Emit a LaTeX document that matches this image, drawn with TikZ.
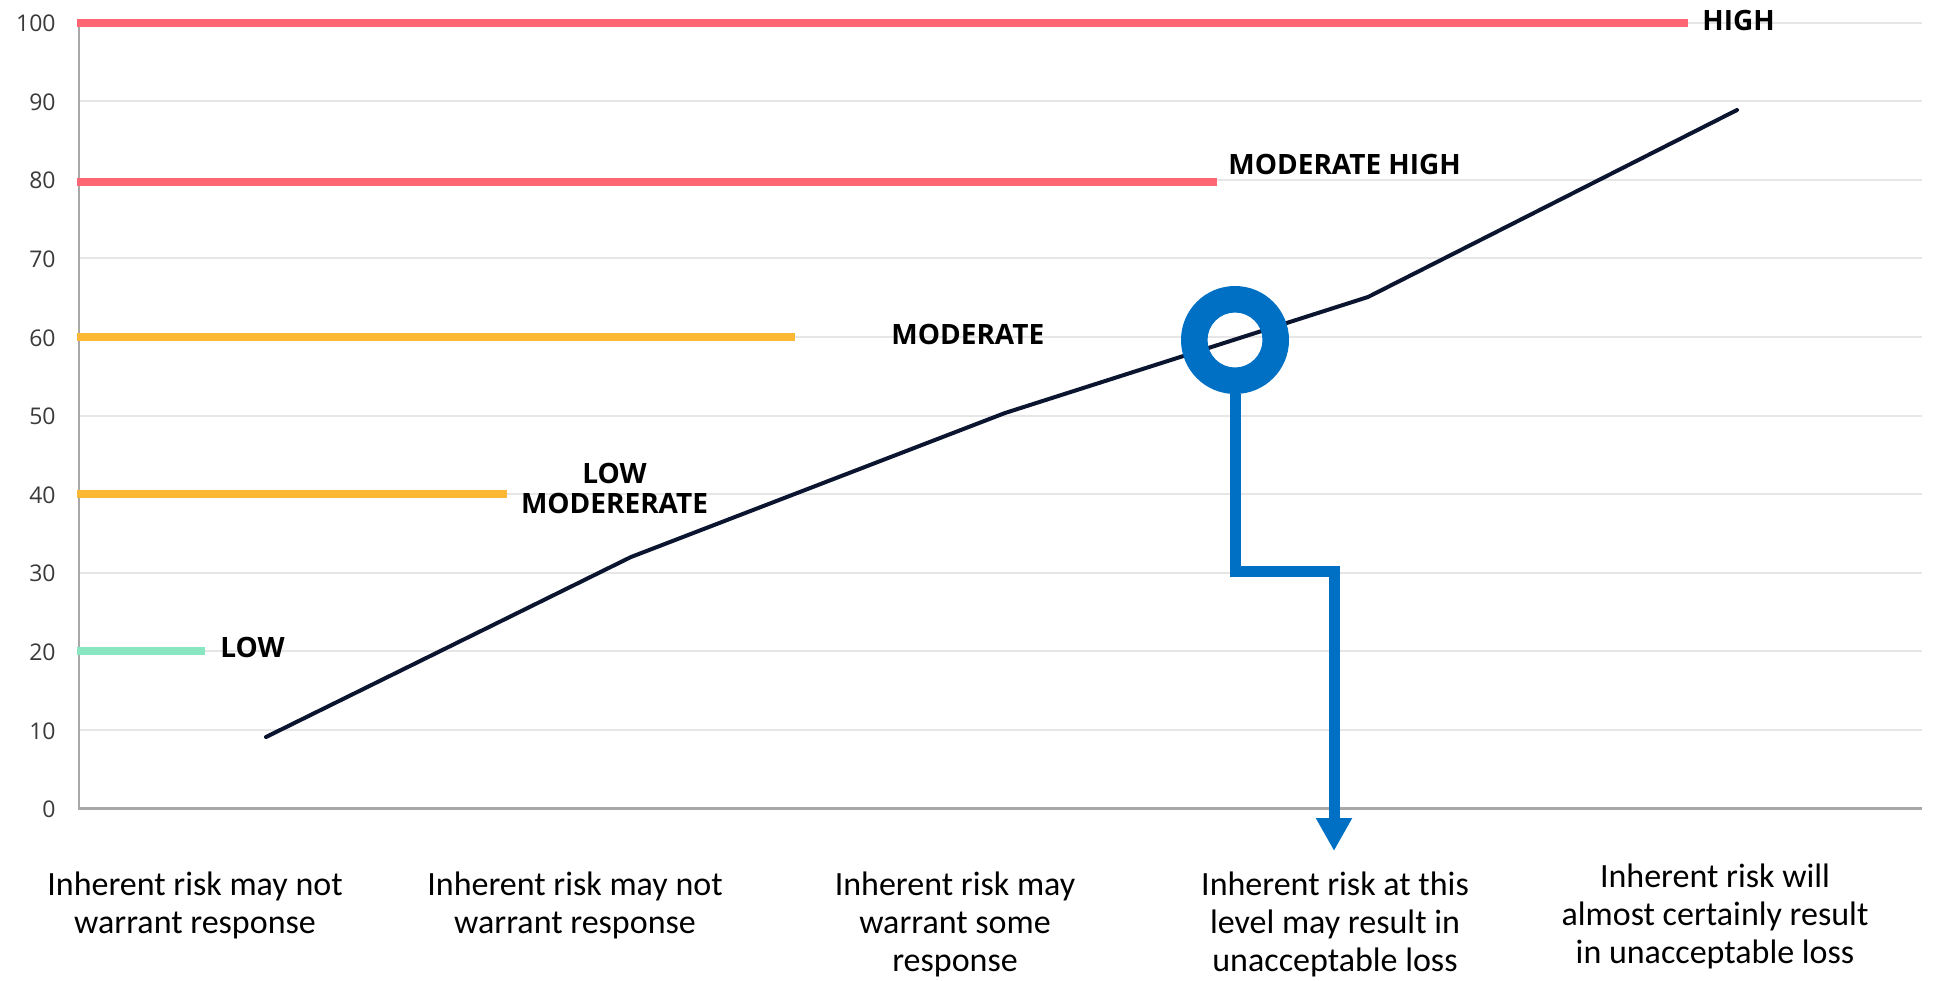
\documentclass[tikz,border=0pt]{standalone}
\usepackage{fontspec}
\setmainfont{Open Sans}
\newfontfamily\catfont{Carlito}
\usetikzlibrary{arrows.meta,shapes.geometric}
\definecolor{riskred}{HTML}{FF6673}
\definecolor{riskorange}{HTML}{FDB833}
\definecolor{riskmint}{HTML}{8AE5C1}
\definecolor{riskblue}{HTML}{0070C5}
\definecolor{risknavy}{HTML}{0B1530}
\definecolor{gridgray}{HTML}{E6E6E6}
\definecolor{axisgray}{HTML}{A8A8A8}
\definecolor{ticktext}{HTML}{3A3A3A}
\begin{document}
\begin{tikzpicture}[x=0.5pt,y=-0.5pt,
  gridline/.style={draw=gridgray,line width=1pt},
  axisline/.style={draw=axisgray,line width=1.2pt},
  bar/.style={line width=4pt},
  ticklabel/.style={anchor=east,inner sep=0pt,text=ticktext,font=\fontsize{11.5}{13}\selectfont},
  levellabel/.style={inner sep=0pt,text=black,font=\fontsize{14}{15}\selectfont\bfseries},
  catlabel/.style={inner sep=0pt,align=center,text=black,font=\catfont\fontsize{17}{19}\selectfont},
  riskline/.style={draw=risknavy,line width=2pt,line join=round,line cap=round},
  bluepath/.style={draw=riskblue,line width=5.5pt,line join=miter,-{Triangle[width=17pt,length=16.5pt]}}
]
\useasboundingbox (0,0) rectangle (1933,980);
\fill[white] (0,0) rectangle (1933,980);
% grid
\foreach \v in {10,20,...,100}{
  \draw[gridline] (79,{808.5-7.86*\v}) -- (1922,{808.5-7.86*\v});
}
\foreach \v in {0,10,...,100}{
  \node[ticklabel] (t\v) at (56,{809.5-7.86*\v}) {\v};
}
% axes
\coordinate (o) at (79,808.5);
\coordinate (ytop) at (79,22);
\coordinate (xend) at (1922,808.5);
\draw[axisline] (ytop) -- (o) -- (xend);
% level bars
\coordinate (b100a) at (77,22.5);  \coordinate (b100b) at (1688,22.5);
\coordinate (b80a) at (77,182);    \coordinate (b80b) at (1217,182);
\coordinate (b60a) at (77,337);    \coordinate (b60b) at (795,337);
\coordinate (b40a) at (77,494);    \coordinate (b40b) at (507,494);
\coordinate (b20a) at (77,651);    \coordinate (b20b) at (205,651);
\draw[bar,riskred] (b100a) -- (b100b);
\draw[bar,riskred] (b80a) -- (b80b);
\draw[bar,riskorange] (b60a) -- (b60b);
\draw[bar,riskorange] (b40a) -- (b40b);
\draw[bar,riskmint] (b20a) -- (b20b);
% level labels
\node[levellabel,anchor=base west] (lhigh) at (1702,30) {HIGH};
\node[levellabel,anchor=base west] (lmodhigh) at (1228,174) {MODERATE HIGH};
\node[levellabel,anchor=base west] (lmod) at (891,344) {MODERATE};
\node[levellabel,align=center,anchor=center] (llowmod) at (614.5,488) {LOW\\MODERERATE};
\node[levellabel,anchor=base west] (llow) at (220,657) {LOW};
% risk line
\coordinate (p1) at (266,737);
\coordinate (p2) at (631,557);
\coordinate (p3) at (1005,413);
\coordinate (p4) at (1368,297);
\coordinate (p5) at (1737,110);
\draw[riskline] (p1) -- (p2) -- (p3) -- (p4) -- (p5);
% blue marker
\node[circle,minimum size=54pt,inner sep=0pt,outer sep=0pt] (ring) at (1235,340) {};
\fill[riskblue,even odd rule] (ring.center) circle[radius=54] (ring.center) circle[radius=27.5];
\coordinate (elbow) at (1334,571);
\coordinate (tip) at (1334,851);
\draw[bluepath] (ring.south) |- (elbow) -- (tip);
% category labels
\node[catlabel,anchor=base] (c1) at (195,933) {Inherent risk may not\\warrant response};
\node[catlabel,anchor=base] (c2) at (575,933) {Inherent risk may not\\warrant response};
\node[catlabel,anchor=base] (c3) at (955,971) {Inherent risk may\\warrant some\\response};
\node[catlabel,anchor=base] (c4) at (1335,971) {Inherent risk at this\\level may result in\\unacceptable loss};
\node[catlabel,anchor=base] (c5) at (1715,963) {Inherent risk will\\almost certainly result\\in unacceptable loss};
\end{tikzpicture}
\end{document}
